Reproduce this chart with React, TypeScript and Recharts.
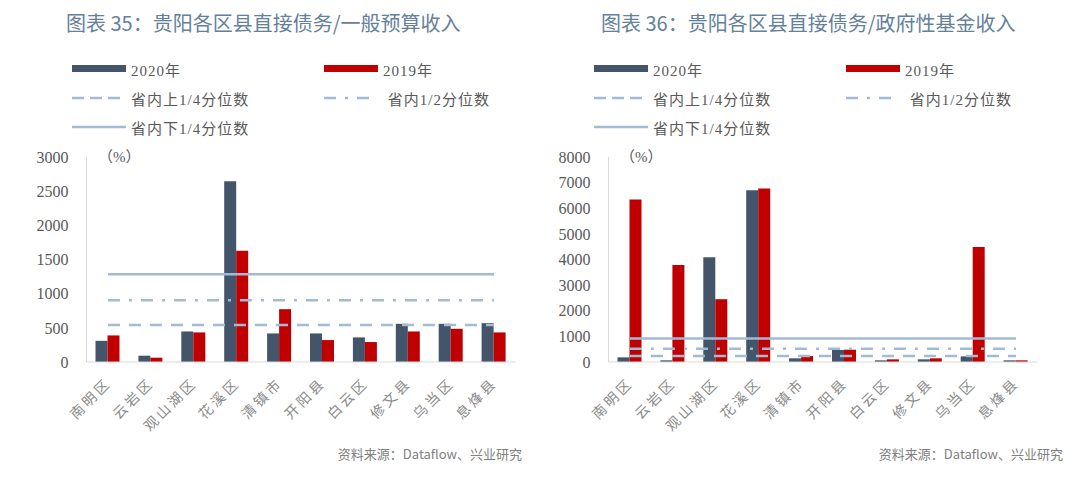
import React from 'react';
import { ComposedChart, Bar, Line, XAxis, YAxis } from 'recharts';

const districts = ['南明区', '云岩区', '观山湖区', '花溪区', '清镇市', '开阳县', '白云区', '修文县', '乌当区', '息烽县'];

// 图表35 直接债务/一般预算收入 (%)
const budget2020 = [310, 92, 447, 2645, 418, 418, 360, 559, 559, 569];
const budget2019 = [389, 63, 433, 1629, 773, 321, 292, 447, 486, 433];
const budgetUpper = 540;
const budgetMedian = 904;
const budgetLower = 1283;
const budgetTicks = [0, 500, 1000, 1500, 2000, 2500, 3000];

// 图表36 直接债务/政府性基金收入 (%)
const fund2020 = [181, 65, 4086, 6705, 143, 470, 65, 104, 220, 65];
const fund2019 = [6340, 3787, 2451, 6770, 233, 480, 104, 143, 4488, 65];
const fundUpper = 233;
const fundMedian = 519;
const fundLower = 921;
const fundTicks = [0, 1000, 2000, 3000, 4000, 5000, 6000, 7000, 8000];

const DARK = '#44546A';
const RED = '#C00000';
const QLINE = '#A3BAD6';
const SERIF = "'Liberation Serif', 'Noto Sans CJK SC', serif";
const SANS = "'Noto Sans CJK SC', 'Noto Sans', sans-serif";

const buildRows = (a: number[], b: number[], upper: number, median: number, lower: number) =>
  districts.map((name, i) => ({ name, y2020: a[i], y2019: b[i], upper, median, lower }));

const RotatedTick = (props: any) => {
  const { x, y, payload } = props;
  return (
    <g transform={`translate(${x + 4},${y + 14})`}>
      <text
        x={0}
        y={0}
        textAnchor="end"
        transform="rotate(-45)"
        fill="#8a8a8a"
        fontSize={14}
        letterSpacing={3}
        fontFamily={SANS}
      >
        {payload.value}
      </text>
    </g>
  );
};

const LegendSwatch = ({ kind }: { kind: string }) => {
  if (kind === 'dark' || kind === 'red') {
    return (
      <svg width={54} height={10}>
        <rect x={0} y={1} width={54} height={7} fill={kind === 'dark' ? DARK : RED} />
      </svg>
    );
  }
  const dash = kind === 'upper' ? '12 6' : kind === 'median' ? '12 9 3 9' : undefined;
  const len = kind === 'median' ? 46 : 54;
  return (
    <svg width={54} height={10}>
      <line x1={0} y1={5} x2={len} y2={5} stroke={QLINE} strokeWidth={2.5} strokeDasharray={dash} />
    </svg>
  );
};

const legendItems = [
  { kind: 'dark', label: '2020年', x: 0, y: 0 },
  { kind: 'red', label: '2019年', x: 252, y: 0 },
  { kind: 'upper', label: '省内上1/4分位数', x: 0, y: 29 },
  { kind: 'median', label: ' 省内1/2分位数', x: 252, y: 29 },
  { kind: 'lower', label: '省内下1/4分位数', x: 0, y: 58 },
];

type PanelProps = {
  left: number;
  title: string;
  titleLeft: number;
  sourceRight: number;
  a: number[];
  b: number[];
  upper: number;
  median: number;
  lower: number;
  ticks: number[];
};

const Panel = ({ left, title, titleLeft, sourceRight, a, b, upper, median, lower, ticks }: PanelProps) => {
  const rows = buildRows(a, b, upper, median, lower);
  const max = ticks[ticks.length - 1];
  return (
    <>
      <div
        style={{
          position: 'absolute',
          left: titleLeft,
          top: 8,
          fontFamily: SANS,
          fontSize: 20,
          color: '#64809b',
          whiteSpace: 'nowrap',
          lineHeight: '30px',
        }}
      >
        {title}
      </div>
      {legendItems.map((it) => (
        <div
          key={it.label}
          style={{
            position: 'absolute',
            left: left + 72 + it.x,
            top: 59 + it.y,
            display: 'flex',
            alignItems: 'center',
            height: 20,
            fontFamily: SERIF,
            fontSize: 15,
            color: '#595959',
            whiteSpace: 'pre',
            letterSpacing: 1,
          }}
        >
          <LegendSwatch kind={it.kind} />
          <span style={{ marginLeft: 5 }}>{it.label}</span>
        </div>
      ))}
      <div
        style={{
          position: 'absolute',
          left: left + 98,
          top: 146,
          fontFamily: SERIF,
          fontSize: 15,
          color: '#595959',
          lineHeight: '22px',
        }}
      >
        （%）
      </div>
      <div style={{ position: 'absolute', left, top: 0 }}>
        <ComposedChart
          width={540}
          height={483}
          data={rows}
          margin={{ top: 157, right: 24.5, bottom: 61, left: 26.5 }}
          barGap={0}
        >
          <XAxis
            dataKey="name"
            axisLine={{ stroke: '#d9d9d9' }}
            tickLine={false}
            tickSize={6}
            tickMargin={2}
            interval={0}
            height={60}
            tick={<RotatedTick />}
          />
          <YAxis
            domain={[0, max]}
            ticks={ticks}
            width={60}
            axisLine={{ stroke: '#d9d9d9' }}
            tickLine={false}
            tickSize={6}
            tickMargin={12}
            tick={{ fill: '#595959', fontSize: 16, fontFamily: SERIF }}
          />
          <Bar dataKey="y2020" fill={DARK} barSize={12} isAnimationActive={false} />
          <Bar dataKey="y2019" fill={RED} barSize={12} isAnimationActive={false} />
          <Line dataKey="lower" stroke={QLINE} strokeWidth={2.5} dot={false} isAnimationActive={false} />
          <Line dataKey="median" stroke={QLINE} strokeWidth={2.5} strokeDasharray="12 9 3 9" dot={false} isAnimationActive={false} />
          <Line dataKey="upper" stroke={QLINE} strokeWidth={2.5} strokeDasharray="12 9" dot={false} isAnimationActive={false} />
        </ComposedChart>
      </div>
      <div
        style={{
          position: 'absolute',
          left: sourceRight - 300,
          width: 300,
          top: 445,
          textAlign: 'right',
          fontFamily: SANS,
          fontSize: 13,
          color: '#808080',
          lineHeight: '18px',
        }}
      >
        资料来源：Dataflow、兴业研究
      </div>
    </>
  );
};

const App = () => {
  return (
    <div style={{ position: 'absolute', left: 0, top: 0, width: 1080, height: 483, background: '#fff', overflow: 'hidden' }}>
      <Panel
        left={0}
        title="图表 35：贵阳各区县直接债务/一般预算收入"
        titleLeft={66}
        sourceRight={522}
        a={budget2020}
        b={budget2019}
        upper={budgetUpper}
        median={budgetMedian}
        lower={budgetLower}
        ticks={budgetTicks}
      />
      <Panel
        left={522}
        title="图表 36：贵阳各区县直接债务/政府性基金收入"
        titleLeft={601}
        sourceRight={1063}
        a={fund2020}
        b={fund2019}
        upper={fundUpper}
        median={fundMedian}
        lower={fundLower}
        ticks={fundTicks}
      />
    </div>
  );
};

export default App;
